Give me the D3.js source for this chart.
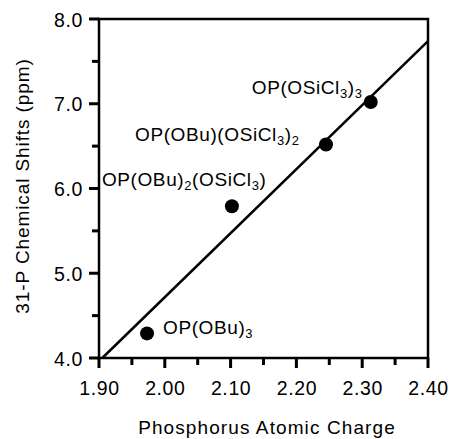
<!DOCTYPE html>
<html>
<head>
<meta charset="utf-8">
<script src="https://cdn.jsdelivr.net/npm/d3@7"></script>
<style>
  body { margin: 0; background: #fff; }
  svg text { font-family: "Liberation Sans", Arial, Helvetica, sans-serif; fill: #000; }
</style>
</head>
<body>
<div id="chart"></div>
<script>
// compounds, charge on P and 31-P shift
const compounds = ["OP(OBu)_3", "OP(OBu)_2(OSiCl_3)", "OP(OBu)(OSiCl_3)_2", "OP(OSiCl_3)_3"];
const charges = [1.973, 2.102, 2.245, 2.313];
const shifts = [4.29, 5.79, 6.52, 7.02];

// fitted line end points
const fitX = [1.905, 2.40];
const fitY = [4.0, 7.74];

const xTicks = [1.9, 2.0, 2.1, 2.2, 2.3, 2.4];
const xMinor = [1.95, 2.05, 2.15, 2.25, 2.35];
const yTicks = [4, 5, 6, 7, 8];
const yMinor = [4.5, 5.5, 6.5, 7.5];

// label offsets from their point, in px
const labelDx = [16, -130, -191, -119];
const labelDy = [1, -20, -3, -8];

const margin = { top: 19, right: 22, bottom: 81, left: 99 },
  width = 450 - margin.left - margin.right,
  height = 439 - margin.top - margin.bottom;

const svg = d3
  .select("#chart")
  .append("svg")
  .attr("width", 450)
  .attr("height", 439);

const g = svg
  .append("g")
  .attr("transform", "translate(" + margin.left + "," + margin.top + ")");

const x = d3.scaleLinear().domain([1.9, 2.4]).range([0, width]);
const y = d3.scaleLinear().domain([4, 8]).range([height, 0]);

// tick labels from the axes (tick marks drawn below)
g.append("g")
  .attr("class", "xaxis")
  .attr("transform", "translate(0," + height + ")")
  .call(
    d3.axisBottom(x).tickValues(xTicks).tickSize(10).tickSizeOuter(0)
      .tickPadding(14).tickFormat(d3.format(".2f"))
  );
g.append("g")
  .attr("class", "yaxis")
  .call(
    d3.axisLeft(y).tickValues(yTicks).tickSize(10).tickSizeOuter(0)
      .tickPadding(6).tickFormat(d3.format(".1f"))
  );

g.selectAll(".domain").remove();
g.selectAll(".tick line").remove();
g.selectAll(".tick text")
  .style("font-size", "19.5px")
  .style("letter-spacing", "0.6px");
g.selectAll(".yaxis .tick text").attr("dy", "0.36em");
g.selectAll(".xaxis .tick text").attr("dy", "0.66em");

// tick marks
const xt = xTicks.map((v) => [v, 10]).concat(xMinor.map((v) => [v, 7]));
const yt = yTicks.map((v) => [v, 10]).concat(yMinor.map((v) => [v, 7]));
g.selectAll(".xt")
  .data(xt)
  .enter()
  .append("rect")
  .attr("class", "xt")
  .attr("x", (d) => x(d[0]) - 1.5)
  .attr("y", height)
  .attr("width", 3)
  .attr("height", (d) => d[1])
  .attr("fill", "#000");
g.selectAll(".yt")
  .data(yt)
  .enter()
  .append("rect")
  .attr("class", "yt")
  .attr("x", (d) => -d[1])
  .attr("y", (d) => y(d[0]) - 1.5)
  .attr("width", (d) => d[1])
  .attr("height", 3)
  .attr("fill", "#000");

// frame
g.append("rect")
  .attr("width", width)
  .attr("height", height)
  .attr("fill", "none")
  .attr("stroke", "#000")
  .attr("stroke-width", 2.5);

// fit line
g.append("path")
  .datum(d3.zip(fitX, fitY))
  .attr("fill", "none")
  .attr("stroke", "#000")
  .attr("stroke-width", 2.5)
  .attr("d", d3.line().x((d) => x(d[0])).y((d) => y(d[1])));

// points
g.selectAll(".pt")
  .data(d3.range(compounds.length))
  .enter()
  .append("circle")
  .attr("class", "pt")
  .attr("cx", (i) => x(charges[i]))
  .attr("cy", (i) => y(shifts[i]))
  .attr("r", 7)
  .attr("fill", "#000");

// labels with subscripts
compounds.forEach((name, i) => {
  const t = g
    .append("text")
    .attr("x", x(charges[i]) + labelDx[i])
    .attr("y", y(shifts[i]) + labelDy[i])
    .style("font-size", "19px")
    .style("letter-spacing", "0.6px");
  const parts = name.split(/_(\d)/);
  parts.forEach((p, k) => {
    if (!p) return;
    if (k % 2 === 1) {
      t.append("tspan").attr("dy", 4).style("font-size", "13px").text(p);
    } else {
      const s = t.append("tspan").text(p);
      if (k > 0) s.attr("dy", -4);
    }
  });
});

// axis titles
svg.append("text")
  .attr("x", 267)
  .attr("y", 434)
  .attr("text-anchor", "middle")
  .style("font-size", "19px")
  .style("letter-spacing", "1.1px")
  .text("Phosphorus Atomic Charge");

svg.append("text")
  .attr("transform", "translate(29,186) rotate(-90)")
  .attr("text-anchor", "middle")
  .style("font-size", "19px")
  .style("letter-spacing", "0.9px")
  .text("31-P Chemical Shifts (ppm)");
</script>
</body>
</html>
